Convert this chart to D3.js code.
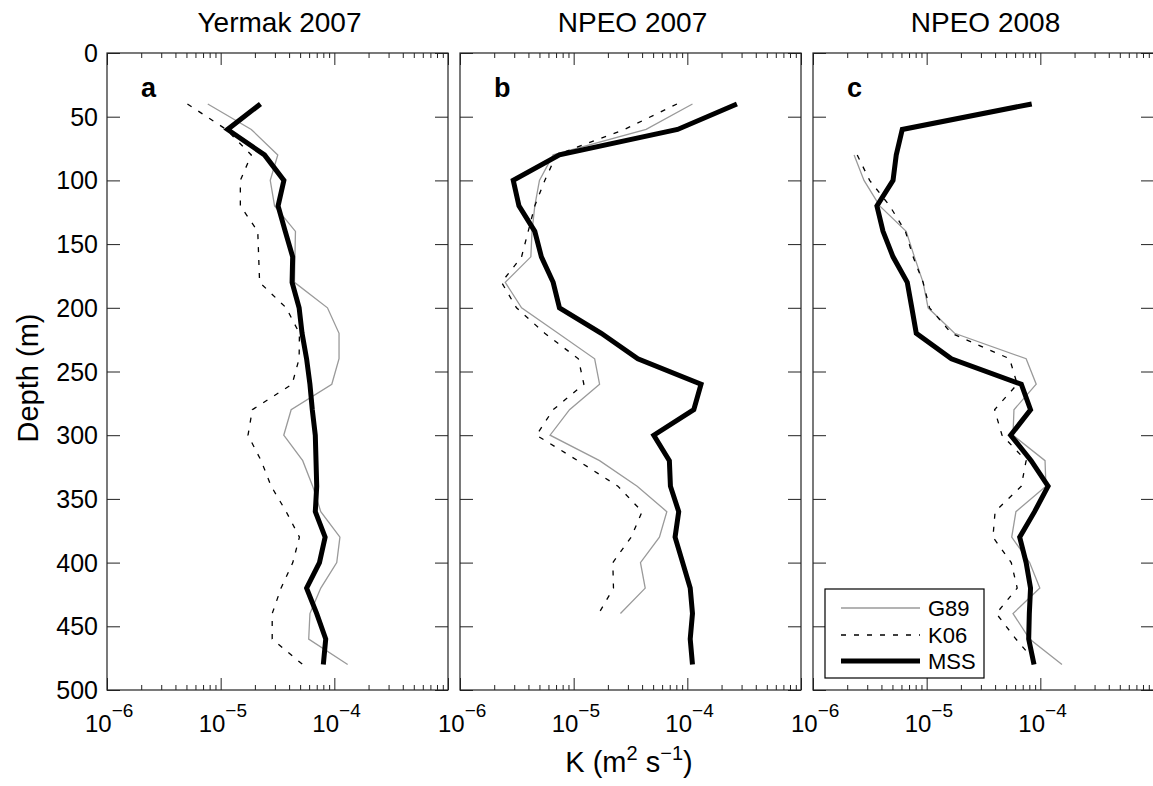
<!DOCTYPE html>
<html><head><meta charset="utf-8">
<script src="https://cdn.jsdelivr.net/npm/d3@7"></script>
<style>
body{margin:0;background:#fff;}
text{font-family:"Liberation Sans",Arial,Helvetica,sans-serif;fill:#000;}
</style></head>
<body><svg id="c" width="1153" height="786"></svg>
<script>
// ---- data ----
const depthsFull = [40,60,80,100,120,140,160,180,200,220,240,260,280,300,320,340,360,380,400,420,440,460,480];
const depthsB = [40,60,80,100,120,140,160,180,200,220,240,260,280,300,320,340,360,380,400,420,440];
const depthsC = [80,100,120,140,160,180,200,220,240,260,280,300,320,340,360,380,400,420,440,460,480];

const titles = ["Yermak 2007","NPEO 2007","NPEO 2008"];
const panelLetters = ["a","b","c"];
const depthTicks = [0,50,100,150,200,250,300,350,400,450,500];
const kDecades = [1e-6,1e-5,1e-4,1e-3];
const kLabelExps = ["\u22126","\u22125","\u22124"];
const legendNames = ["G89","K06","MSS"];

const mssA = [2.24e-5,1.15e-5,2.43e-5,3.6e-5,3.2e-5,3.7e-5,4.3e-5,4.25e-5,4.9e-5,5.2e-5,5.7e-5,6.1e-5,6.4e-5,6.8e-5,6.9e-5,7.0e-5,6.8e-5,8.3e-5,7.4e-5,5.7e-5,7.0e-5,8.4e-5,8.0e-5];
const g89A = [7.7e-6,1.86e-5,3.18e-5,2.73e-5,2.98e-5,4.55e-5,4.5e-5,4.46e-5,8.7e-5,1.1e-4,1.1e-4,9.5e-5,4.17e-5,3.59e-5,5.27e-5,6.45e-5,7.6e-5,1.12e-4,1.05e-4,7.6e-5,6.1e-5,5.95e-5,1.31e-4];
const k06A = [5.1e-6,1.12e-5,1.86e-5,1.49e-5,1.49e-5,2.12e-5,2.16e-5,2.2e-5,3.77e-5,4.93e-5,4.9e-5,4.25e-5,1.9e-5,1.74e-5,2.27e-5,2.78e-5,3.77e-5,4.93e-5,4.31e-5,3.4e-5,2.84e-5,2.84e-5,5.27e-5];

const mssB = [2.73e-4,8.2e-5,7.5e-6,2.94e-6,3.3e-6,4.55e-6,5.2e-6,6.6e-6,7.5e-6,1.75e-5,3.67e-5,1.32e-4,1.14e-4,5.07e-5,6.95e-5,7.1e-5,8.4e-5,7.8e-5,9.1e-5,1.06e-4,1.11e-4,1.06e-4,1.11e-4];
const g89B = [1.11e-4,4.34e-5,6.6e-6,5.0e-6,4.55e-6,4.3e-6,4.2e-6,2.5e-6,3.48e-6,7.3e-6,1.53e-5,1.69e-5,9.2e-6,6.2e-6,1.69e-5,3.62e-5,6.6e-5,5.68e-5,3.87e-5,4.26e-5,2.58e-5];
const k06B = [8.1e-5,2.8e-5,7.05e-6,5.57e-6,4.55e-6,3.98e-6,3.48e-6,2.32e-6,3.14e-6,5.57e-6,1.1e-5,1.23e-5,6.6e-6,4.7e-6,1.09e-5,2.45e-5,4.0e-5,3.21e-5,2.21e-5,2.24e-5,1.66e-5];

const mssC = [8.4e-5,6.1e-6,5.4e-6,5.06e-6,3.65e-6,4.13e-6,5.06e-6,6.75e-6,7.4e-6,8.1e-6,1.65e-5,6.8e-5,8.2e-5,5.48e-5,8.3e-5,1.17e-4,8.9e-5,6.58e-5,7.5e-5,8.2e-5,8.0e-5,7.9e-5,8.8e-5];
const g89C = [2.3e-6,2.81e-6,3.86e-6,6.6e-6,7.8e-6,9.3e-6,1.03e-5,1.76e-5,7.5e-5,9.2e-5,5.86e-5,5.75e-5,1.1e-4,1.12e-4,6.1e-5,5.6e-5,8.05e-5,9.9e-5,5.75e-5,8.05e-5,1.55e-4];
const k06C = [2.45e-6,3.15e-6,4.73e-6,6.5e-6,7.6e-6,9.3e-6,1.06e-5,1.65e-5,5.37e-5,6.26e-5,3.96e-5,4.6e-5,7.5e-5,6.8e-5,4.0e-5,3.83e-5,5.55e-5,6.26e-5,4.1e-5,6.1e-5,9.5e-5];

const panels = [
  {g89:[depthsFull,g89A], k06:[depthsFull,k06A], mss:[depthsFull,mssA]},
  {g89:[depthsB,g89B], k06:[depthsB,k06B], mss:[depthsFull,mssB]},
  {g89:[depthsC,g89C], k06:[depthsC,k06C], mss:[depthsFull,mssC]}
];

// ---- layout ----
const svg = d3.select("#c");
const lefts = [107,460,813];
const pw = 341, topY = 53, ph = 637;
const axisColor = "#222";

const minorTicks = [];
for (let e=-6;e<-3;e++) for (let m=2;m<=9;m++) minorTicks.push(m*Math.pow(10,e));

const y = d3.scaleLinear().domain([0,500]).range([topY, topY+ph]);

const styles = {
  g89:{stroke:"#9a9a9a", width:1.3, dash:null},
  k06:{stroke:"#000", width:1.3, dash:"5,8"},
  mss:{stroke:"#000", width:5, dash:null}
};

panels.forEach((p,i)=>{
  const x0 = lefts[i];
  const x = d3.scaleLog().domain([1e-6,1e-3]).range([x0, x0+pw]);
  const g = svg.append("g");

  const mk = (axisFn, size, vals, ty)=>{
    const ax = g.append("g").attr("transform",`translate(0,${ty})`)
      .call(axisFn(x).tickValues(vals).tickSizeInner(size).tickSizeOuter(0).tickFormat(""));
    ax.select(".domain").remove();
    ax.selectAll("line").attr("stroke",axisColor).attr("stroke-width",1);
  };
  mk(d3.axisBottom, -12, kDecades, topY+ph);
  mk(d3.axisBottom, -5, minorTicks, topY+ph);
  mk(d3.axisTop, -12, kDecades, topY);
  mk(d3.axisTop, -5, minorTicks, topY);

  const ya = g.append("g").attr("transform",`translate(${x0},0)`)
    .call(d3.axisLeft(y).tickValues(depthTicks).tickSizeInner(-13).tickSizeOuter(0).tickFormat(""));
  ya.select(".domain").remove();
  ya.selectAll("line").attr("stroke",axisColor);
  const yb = g.append("g").attr("transform",`translate(${x0+pw},0)`)
    .call(d3.axisRight(y).tickValues(depthTicks).tickSizeInner(-13).tickSizeOuter(0).tickFormat(""));
  yb.select(".domain").remove();
  yb.selectAll("line").attr("stroke",axisColor);

  g.append("rect").attr("x",x0).attr("y",topY).attr("width",pw).attr("height",ph)
    .attr("fill","none").attr("stroke",axisColor).attr("stroke-width",1.2);

  kDecades.slice(0,3).forEach((v,j)=>{
    const t = g.append("text").attr("x",x(v)-22).attr("y",732)
      .attr("font-size",24).attr("text-anchor","start");
    t.append("tspan").text("10");
    t.append("tspan").attr("dy",-15).attr("font-size",19).text(kLabelExps[j]);
  });

  if (i===0) {
    depthTicks.forEach(d=>{
      g.append("text").attr("x",x0-9).attr("y",y(d)).attr("dy","0.36em")
        .attr("text-anchor","end").attr("font-size",25).text(d);
    });
  }

  g.append("text").attr("x",x0+pw/2+2).attr("y",32).attr("text-anchor","middle")
    .attr("font-size",28).text(titles[i]);
  g.append("text").attr("x",x0+34).attr("y",97).attr("font-size",27)
    .attr("font-weight","bold").text(panelLetters[i]);

  const clipId = "clip"+i;
  svg.append("clipPath").attr("id",clipId).append("rect")
    .attr("x",x0).attr("y",topY).attr("width",pw).attr("height",ph);
  ["g89","k06","mss"].forEach(k=>{
    const [ds,vs] = p[k];
    const line = d3.line().x((d,j)=>x(vs[j])).y(d=>y(d));
    const st = styles[k];
    g.append("path").datum(ds).attr("d",line)
      .attr("fill","none").attr("stroke",st.stroke).attr("stroke-width",st.width)
      .attr("stroke-dasharray",st.dash).attr("stroke-linejoin","miter")
      .attr("clip-path",`url(#${clipId})`);
  });

  if (i===2) {
    const lg = g.append("g");
    lg.append("rect").attr("x",825).attr("y",589).attr("width",159).attr("height",89)
      .attr("fill","#fff").attr("stroke","#000").attr("stroke-width",1.2);
    const ly = [608,635,661];
    legendNames.forEach((n,j)=>{
      const st = styles[n.toLowerCase()];
      lg.append("line").attr("x1",841).attr("x2",920).attr("y1",ly[j]).attr("y2",ly[j])
        .attr("stroke",st.stroke).attr("stroke-width",st.width).attr("stroke-dasharray",st.dash);
      lg.append("text").attr("x",928).attr("y",ly[j]).attr("dy","0.36em")
        .attr("font-size",22).text(n);
    });
  }
});

svg.append("text").attr("transform","translate(38,378) rotate(-90)")
  .attr("text-anchor","middle").attr("font-size",29).text("Depth (m)");
const xl = svg.append("text").attr("x",629).attr("y",772).attr("text-anchor","middle").attr("font-size",29);
xl.append("tspan").text("K (m");
xl.append("tspan").attr("dy",-12).attr("font-size",20).text("2");
xl.append("tspan").attr("dy",12).text(" s");
xl.append("tspan").attr("dy",-12).attr("font-size",20).text("\u22121");
xl.append("tspan").attr("dy",12).text(")");
</script></body></html>
